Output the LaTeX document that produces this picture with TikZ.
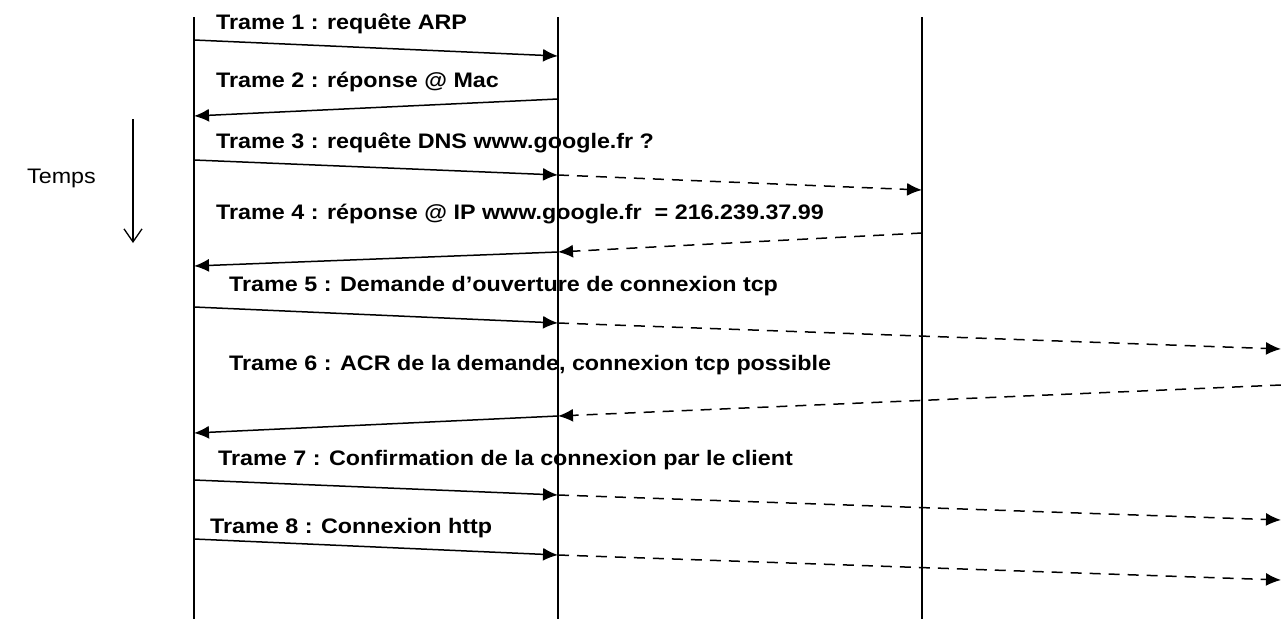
\documentclass[tikz,border=0pt]{standalone}
\usepackage{fontspec}
\setmainfont{Liberation Sans}
\usetikzlibrary{arrows.meta}
\begin{document}
\begin{tikzpicture}[x=1pt,y=-1pt,
  lifeline/.style={line width=2.1pt},
  msg/.style={line width=1.5pt,-{Latex[length=15pt,width=13pt]}},
  fwd/.style={line width=1.5pt,dash pattern=on 11pt off 8pt,-{Latex[length=15pt,width=13pt]}},
  lbl/.style={anchor=base west,inner sep=0pt,font=\fontsize{21}{24}\selectfont\bfseries},
  timelbl/.style={anchor=base east,inner sep=0pt,font=\fontsize{21}{24}\selectfont}]
\useasboundingbox (0,0) rectangle (1281,619);
% lifelines
\coordinate (aT) at (194,17); \coordinate (aB) at (194,619);
\coordinate (bT) at (558,17); \coordinate (bB) at (558,619);
\coordinate (cT) at (922,17); \coordinate (cB) at (922,619);
\draw[lifeline] (aT) -- (aB);
\draw[lifeline] (bT) -- (bB);
\draw[lifeline] (cT) -- (cB);
% time arrow
\node[timelbl] (temps) at (96,183) {\scalebox{1.11}[1]{Temps}};
\coordinate (tT) at (133,119); \coordinate (tB) at (133,243);
\draw[line width=1.3pt,-{Straight Barb[length=13pt,width=18pt,line width=1.3pt]}] (tT) -- (tB);
% Trame 1
\node[lbl] (t1) at (216,29) {\scalebox{1.11}[1]{Trame 1 : requête ARP}};
\coordinate (m1a) at (194,40); \coordinate (m1b) at (558,56);
\draw[msg] (m1a) -- (m1b);
% Trame 2
\node[lbl] (t2) at (216,87) {\scalebox{1.11}[1]{Trame 2 : réponse @ Mac}};
\coordinate (m2a) at (558,99); \coordinate (m2b) at (194,116);
\draw[msg] (m2a) -- (m2b);
% Trame 3
\node[lbl] (t3) at (216,148) {\scalebox{1.11}[1]{Trame 3 : requête DNS www.google.fr ?}};
\coordinate (m3a) at (194,160); \coordinate (m3b) at (558,175); \coordinate (m3c) at (922,190);
\draw[msg] (m3a) -- (m3b);
\draw[fwd] (m3b) -- (m3c);
% Trame 4
\node[lbl] (t4) at (216,219) {\scalebox{1.11}[1]{Trame 4 : réponse @ IP www.google.fr \ = 216.239.37.99}};
\coordinate (m4a) at (922,233); \coordinate (m4b) at (558,252); \coordinate (m4c) at (194,266);
\draw[fwd] (m4a) -- (m4b);
\draw[msg] (m4b) -- (m4c);
% Trame 5
\node[lbl] (t5) at (229,291) {\scalebox{1.11}[1]{Trame 5 : Demande d’ouverture de connexion tcp}};
\coordinate (m5a) at (194,307); \coordinate (m5b) at (558,323); \coordinate (m5c) at (1281,349);
\draw[msg] (m5a) -- (m5b);
\draw[fwd] (m5b) -- (m5c);
% Trame 6
\node[lbl] (t6) at (229,370) {\scalebox{1.11}[1]{Trame 6 : ACR de la demande, connexion tcp possible}};
\coordinate (m6a) at (1281,385); \coordinate (m6b) at (558,416); \coordinate (m6c) at (194,433);
\draw[fwd] (m6a) -- (m6b);
\draw[msg] (m6b) -- (m6c);
% Trame 7
\node[lbl] (t7) at (218,465) {\scalebox{1.11}[1]{Trame 7 : Confirmation de la connexion par le client}};
\coordinate (m7a) at (194,480); \coordinate (m7b) at (558,495); \coordinate (m7c) at (1281,520);
\draw[msg] (m7a) -- (m7b);
\draw[fwd] (m7b) -- (m7c);
% Trame 8
\node[lbl] (t8) at (210,533) {\scalebox{1.11}[1]{Trame 8 : Connexion http}};
\coordinate (m8a) at (194,539); \coordinate (m8b) at (558,555); \coordinate (m8c) at (1281,580);
\draw[msg] (m8a) -- (m8b);
\draw[fwd] (m8b) -- (m8c);
\end{tikzpicture}
\end{document}
